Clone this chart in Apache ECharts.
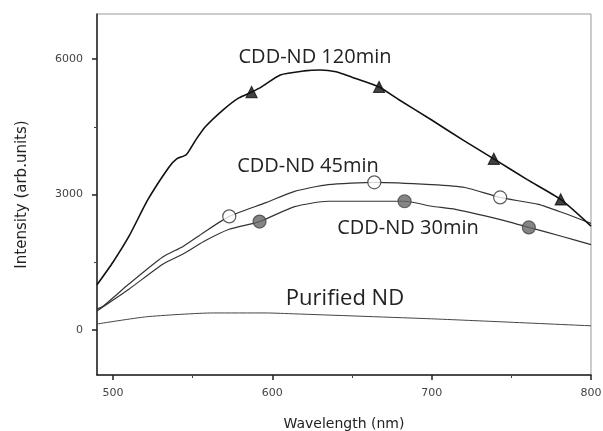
<!DOCTYPE html>
<html>
<head>
<meta charset="utf-8">
<script src="https://cdn.jsdelivr.net/npm/echarts@6/dist/echarts.min.js"></script>
<style>
  html, body { margin: 0; padding: 0; background: #fff; }
  #chart { width: 603px; height: 431px; }
</style>
</head>
<body>
<div id="chart"></div>
<script>
// wavelength (nm) / intensity pairs
const wl120 = [490, 500, 510, 522, 535, 540, 546, 552, 558, 569, 579, 587, 593, 605, 620, 630, 640, 650, 667, 679, 700, 720, 739, 760, 781, 800];
const int120 = [1000, 1500, 2070, 2890, 3600, 3790, 3880, 4210, 4500, 4870, 5140, 5270, 5380, 5650, 5740, 5760, 5720, 5600, 5382, 5110, 4650, 4200, 3790, 3330, 2890, 2300];
const mark120 = [[587, 5270], [667, 5382], [739, 3790], [781, 2890]];

const wl45 = [490, 494, 510, 531, 544, 557, 573, 596, 614, 635, 664, 700, 721, 743, 767, 782, 800];
const int45 = [460, 530, 1015, 1610, 1850, 2160, 2515, 2820, 3070, 3220, 3270, 3220, 3155, 2935, 2780, 2600, 2360];
const mark45 = [[573, 2515], [664, 3270], [743, 2935]];

const wl30 = [490, 510, 531, 544, 557, 573, 592, 614, 635, 683, 700, 715, 748, 761, 782, 800];
const int30 = [420, 900, 1450, 1680, 1960, 2230, 2400, 2730, 2850, 2850, 2740, 2670, 2400, 2270, 2070, 1890];
const mark30 = [[592, 2400], [683, 2850], [761, 2270]];

const wlND = [490, 521, 563, 596, 614, 700, 746, 800];
const intND = [130, 290, 375, 375, 355, 245, 175, 90];

const xTicks = [500, 600, 700, 800];
const xMinor = [550, 650, 750];
const yTicks = [0, 3000, 6000];
const yMinor = [1500, 4500];

const pairs = (xs, ys) => xs.map((x, i) => [x, ys[i]]);

const chart = echarts.init(document.getElementById('chart'));

const tickFont = { fontFamily: 'DejaVu Sans', fontSize: 11, color: '#444', formatter: v => String(v) };

const lineSeries = (data, color, width) => ({
  type: 'line',
  data: data,
  symbol: 'none',
  smooth: 0.2,
  lineStyle: { color: color, width: width },
  z: 2
});

const markSeries = (data, symbol, size, fill, stroke) => ({
  type: 'scatter',
  data: data,
  symbol: symbol,
  symbolSize: size,
  itemStyle: { color: fill, borderColor: stroke, borderWidth: 1.2 },
  z: 3
});

chart.setOption({
  animation: false,
  grid: {
    left: 97, right: 12, top: 14, bottom: 56,
    outerBoundsMode: 'none', containLabel: false,
    show: true, borderColor: '#999', borderWidth: 1
  },
  xAxis: [{
    type: 'value', min: 490, max: 800,
    name: 'Wavelength (nm)', nameLocation: 'middle', nameGap: 42,
    nameTextStyle: { fontFamily: 'DejaVu Sans', fontSize: 14, color: '#222' },
    axisLine: { onZero: false, lineStyle: { color: '#222', width: 1.5 } },
    axisTick: { customValues: xTicks, length: 5, lineStyle: { color: '#222', width: 1.5 } },
    axisLabel: Object.assign({ customValues: xTicks, margin: 13 }, tickFont),
    splitLine: { show: false }
  }, {
    type: 'value', min: 490, max: 800, position: 'bottom',
    axisLine: { show: false, onZero: false },
    axisTick: { customValues: xMinor, length: 3, lineStyle: { color: '#444' } },
    axisLabel: { show: false },
    splitLine: { show: false }
  }],
  yAxis: [{
    type: 'value', min: -1000, max: 7000,
    name: 'Intensity (arb.units)', nameLocation: 'middle', nameGap: 67,
    nameTextStyle: { fontFamily: 'DejaVu Sans', fontSize: 15, color: '#222' },
    axisLine: { onZero: false, lineStyle: { color: '#222', width: 1.5 } },
    axisTick: { customValues: yTicks, length: 5, lineStyle: { color: '#222', width: 1.5 } },
    axisLabel: Object.assign({ customValues: yTicks, margin: 14 }, tickFont),
    splitLine: { show: false }
  }, {
    type: 'value', min: -1000, max: 7000, position: 'left',
    axisLine: { show: false, onZero: false },
    axisTick: { customValues: yMinor, length: 3, lineStyle: { color: '#444' } },
    axisLabel: { show: false },
    splitLine: { show: false }
  }],
  series: [
    lineSeries(pairs(wlND, intND), '#444', 1),
    lineSeries(pairs(wl30, int30), '#333', 1.2),
    lineSeries(pairs(wl45, int45), '#333', 1.2),
    lineSeries(pairs(wl120, int120), '#111', 1.6),
    markSeries(mark120, 'triangle', 11, '#111', '#111'),
    markSeries(mark45, 'circle', 13, '#fff', '#333'),
    markSeries(mark30, 'circle', 13, '#666', '#444')
  ],
  graphic: [
    { type: 'text', x: 315, y: 57, style: { text: 'CDD-ND 120min', font: '20px "Open Sans"', fill: '#222', align: 'center', verticalAlign: 'middle' } },
    { type: 'text', x: 308, y: 166, style: { text: 'CDD-ND 45min', font: '20px "Open Sans"', fill: '#222', align: 'center', verticalAlign: 'middle' } },
    { type: 'text', x: 408, y: 228, style: { text: 'CDD-ND 30min', font: '20px "Open Sans"', fill: '#222', align: 'center', verticalAlign: 'middle' } },
    { type: 'text', x: 345, y: 299, style: { text: 'Purified ND', font: '22px "Open Sans"', fill: '#222', align: 'center', verticalAlign: 'middle' } }
  ]
});
</script>
</body>
</html>
